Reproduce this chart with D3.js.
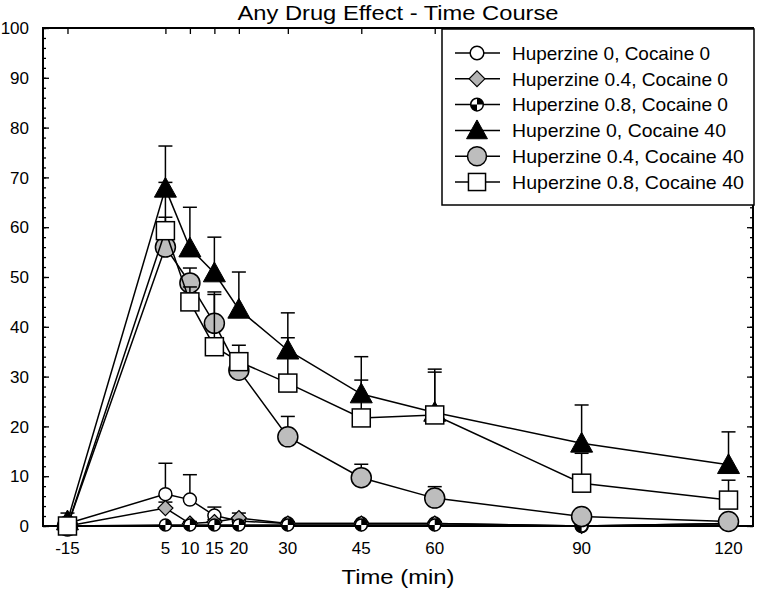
<!DOCTYPE html>
<html>
<head>
<meta charset="utf-8">
<script src="https://cdn.jsdelivr.net/npm/d3@7"></script>
<style>
  html, body { margin: 0; padding: 0; background: #fff; }
  svg { display: block; font-family: "Liberation Sans", Arial, sans-serif; }
</style>
</head>
<body>
<svg id="chart" width="760" height="590"></svg>
<script>
// ---- data ----
const times = [-15, 5, 10, 15, 20, 30, 45, 60, 90, 120];
const xTickLabels = [-15, 5, 10, 15, 20, 30, 45, 60, 90, 120];
const yTickLabels = [0, 10, 20, 30, 40, 50, 60, 70, 80, 90, 100];
const seriesNames = [
  "Huperzine 0, Cocaine 0",
  "Huperzine 0.4, Cocaine 0",
  "Huperzine 0.8, Cocaine 0",
  "Huperzine 0, Cocaine 40",
  "Huperzine 0.4, Cocaine 40",
  "Huperzine 0.8, Cocaine 40"
];
const h0c0   = [0.5, 6.4, 5.3, 2.1, 1.0, 0.5, 0.5, 0.5, 0.0, 0.5];
const h0c0E  = [0.5, 6.2, 5.0, 1.7, 0.5, 0.3, 0.3, 0.3, 0.0, 0.3];
const h04c0  = [0.0, 3.6, 0.5, 0.8, 1.6, 0.5, 0.5, 0.5, 0.0, 0.5];
const h04c0E = [0.0, 1.2, 0.4, 0.5, 1.0, 0.3, 0.3, 0.3, 0.0, 0.3];
const h08c0  = [0.0, 0.2, 0.2, 0.2, 0.2, 0.2, 0.2, 0.2, 0.0, 0.2];
const h08c0E = [0.0, 0.0, 0.0, 0.0, 0.0, 0.0, 0.0, 0.0, 0.0, 0.0];
const h0c40  = [1.0, 67.8, 55.8, 50.8, 43.5, 35.3, 26.5, 22.8, 16.6, 12.3];
const h0c40E = [1.6, 8.5, 8.2, 7.2, 7.5, 7.5, 7.5, 8.7, 7.7, 6.6];
const h04c40 = [0.0, 56.0, 48.8, 40.7, 31.3, 17.9, 9.7, 5.6, 1.9, 0.9];
const h04c40E= [0.3, 13.0, 3.0, 6.3, 1.5, 4.1, 2.7, 2.3, 0.5, 0.3];
const h08c40 = [0.0, 59.3, 45.0, 36.0, 33.0, 28.7, 21.7, 22.3, 8.6, 5.2];
const h08c40E= [0.3, 2.7, 3.0, 10.5, 3.3, 9.1, 7.6, 8.6, 6.0, 4.0];

const seriesVals = [h0c0, h04c0, h08c0, h0c40, h04c40, h08c40];
const seriesErr  = [h0c0E, h04c0E, h08c0E, h0c40E, h04c40E, h08c40E];
const markerTypes = ["hex", "diamond", "quarter", "triangle", "circle", "square"];

// ---- layout ----
const svg = d3.select("#chart");
const L = 43, R = 753, T = 28, B = 526;
const x = d3.scaleLinear().domain([-20, 125]).range([L, R]);
const y = d3.scaleLinear().domain([0, 100]).range([B, T]);

// title
svg.append("text").attr("x", 398).attr("y", 20).attr("text-anchor", "middle")
  .attr("font-size", 21).attr("textLength", 321).attr("lengthAdjust", "spacingAndGlyphs")
  .text("Any Drug Effect - Time Course");

// axes (inward ticks)
const minorY = d3.range(0, 101, 2);
const gL = svg.append("g").attr("transform", `translate(${L},0)`)
  .call(d3.axisRight(y).tickValues(minorY).tickSize(3).tickFormat(""));
svg.append("g").attr("transform", `translate(${L},0)`)
  .call(d3.axisRight(y).tickValues(yTickLabels).tickSize(6).tickFormat(""));
svg.append("g").attr("transform", `translate(${R},0)`)
  .call(d3.axisLeft(y).tickValues(minorY).tickSize(3).tickFormat(""));
svg.append("g").attr("transform", `translate(${R},0)`)
  .call(d3.axisLeft(y).tickValues(yTickLabels).tickSize(6).tickFormat(""));
svg.append("g").attr("transform", `translate(0,${T})`)
  .call(d3.axisBottom(x).tickValues(xTickLabels).tickSize(6).tickFormat(""));
svg.append("g").attr("transform", `translate(0,${B})`)
  .call(d3.axisTop(x).tickValues(xTickLabels).tickSize(6).tickFormat(""));
svg.selectAll(".domain").remove();
svg.selectAll(".tick line").attr("stroke", "#000").attr("stroke-width", 1.3);

// frame
svg.append("rect").attr("x", L).attr("y", T).attr("width", R - L).attr("height", B - T)
  .attr("fill", "none").attr("stroke", "#000").attr("stroke-width", 2);

// tick labels
svg.append("g").selectAll("text").data(yTickLabels).join("text")
  .attr("x", 29).attr("y", d => y(d)).attr("dy", "0.36em")
  .attr("text-anchor", "end").attr("font-size", 17).text(d => d);
svg.append("g").selectAll("text").data(xTickLabels).join("text")
  .attr("x", d => x(d)).attr("y", 554)
  .attr("text-anchor", "middle").attr("font-size", 17).text(d => d);
svg.append("text").attr("x", 398).attr("y", 584).attr("text-anchor", "middle")
  .attr("font-size", 21).attr("textLength", 113).attr("lengthAdjust", "spacingAndGlyphs")
  .text("Time (min)");

// markers
function drawMarker(g, type, cx, cy, scale) {
  const s = scale || 1;
  if (type === "hex") {
    g.append("circle").attr("cx", cx).attr("cy", cy).attr("r", 6.5 * s)
      .attr("fill", "#fff").attr("stroke", "#000").attr("stroke-width", 1.5);
  } else if (type === "diamond") {
    const r = 7.5 * s;
    g.append("path").attr("d", `M${cx},${cy - r}L${cx + r},${cy}L${cx},${cy + r}L${cx - r},${cy}Z`)
      .attr("fill", "#b4b4b4").attr("stroke", "#000").attr("stroke-width", 1.2);
  } else if (type === "quarter") {
    const r = 6 * s;
    g.append("circle").attr("cx", cx).attr("cy", cy).attr("r", r)
      .attr("fill", "#fff").attr("stroke", "#000").attr("stroke-width", 1.5);
    g.append("path").attr("d", `M${cx},${cy}L${cx},${cy - r}A${r},${r} 0 0 1 ${cx + r},${cy}Z`).attr("fill", "#000");
    g.append("path").attr("d", `M${cx},${cy}L${cx},${cy + r}A${r},${r} 0 0 1 ${cx - r},${cy}Z`).attr("fill", "#000");
  } else if (type === "triangle") {
    const r = 11 * s;
    g.append("path").attr("d", `M${cx},${cy - r}L${cx + r},${cy + r * 0.8}L${cx - r},${cy + r * 0.8}Z`)
      .attr("fill", "#000").attr("stroke", "#000").attr("stroke-width", 1);
  } else if (type === "circle") {
    g.append("circle").attr("cx", cx).attr("cy", cy).attr("r", 10 * s)
      .attr("fill", "#bdbdbd").attr("stroke", "#000").attr("stroke-width", 1.5);
  } else if (type === "square") {
    const h = 9 * s;
    g.append("rect").attr("x", cx - h).attr("y", cy - h).attr("width", 2 * h).attr("height", 2 * h)
      .attr("fill", "#fff").attr("stroke", "#000").attr("stroke-width", 1.5);
  }
}

const line = d3.line().x(d => x(d[0])).y(d => y(d[1]));
const plot = svg.append("g");
seriesVals.forEach((vals, si) => {
  const pts = times.map((t, i) => [t, vals[i], seriesErr[si][i]]);
  const g = plot.append("g");
  g.append("path").attr("d", line(pts)).attr("fill", "none")
    .attr("stroke", "#000").attr("stroke-width", 1.5);
  pts.forEach(p => {
    if (p[2] > 0) {
      const cx = x(p[0]), y0 = y(p[1]), y1 = y(p[1] + p[2]);
      g.append("line").attr("x1", cx).attr("x2", cx).attr("y1", y0).attr("y2", y1)
        .attr("stroke", "#000").attr("stroke-width", 1.5);
      g.append("line").attr("x1", cx - 7).attr("x2", cx + 7).attr("y1", y1).attr("y2", y1)
        .attr("stroke", "#000").attr("stroke-width", 1.5);
    }
  });
  pts.forEach(p => drawMarker(g, markerTypes[si], x(p[0]), y(p[1]), 1));
});

// legend
const lg = svg.append("g");
lg.append("rect").attr("x", 442).attr("y", 29).attr("width", 312).attr("height", 176)
  .attr("fill", "#fff").attr("stroke", "#000").attr("stroke-width", 1.5);
const legendTextLen = [198, 216, 216, 214, 232, 232];
seriesNames.forEach((name, i) => {
  const cy = 53 + i * 25.8;
  lg.append("line").attr("x1", 455).attr("x2", 500).attr("y1", cy).attr("y2", cy)
    .attr("stroke", "#000").attr("stroke-width", 1.5);
  drawMarker(lg, markerTypes[i], 477, cy, i < 3 ? 1.05 : 0.95);
  lg.append("text").attr("x", 512).attr("y", cy).attr("dy", "0.36em")
    .attr("font-size", 19).attr("textLength", legendTextLen[i]).attr("lengthAdjust", "spacingAndGlyphs")
    .text(name);
});
</script>
</body>
</html>
